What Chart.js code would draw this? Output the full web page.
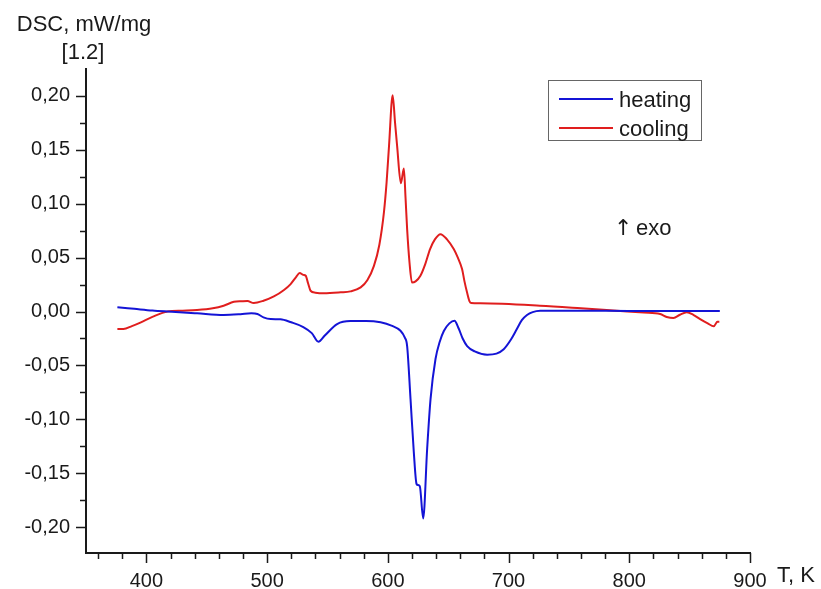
<!DOCTYPE html>
<html>
<head>
<meta charset="utf-8">
<script src="https://cdn.jsdelivr.net/npm/chart.js@4/dist/chart.umd.min.js"></script>
<style>
  body { margin: 0; background: #fff; }
  canvas { display: block; }
</style>
</head>
<body>
<canvas id="dsc" width="821" height="589"></canvas>
<script>
// heating curve (blue), T in K, DSC in mW/mg
const heatT = [376, 390, 405, 418, 442, 464, 478, 487, 492, 497, 503, 511, 520, 530, 537, 542.5, 548, 558, 569, 582,
  594, 603, 610.5, 614, 616, 618.8, 621.5, 623.8, 625, 626.5, 629.3, 632.6, 635.4, 639.5, 643, 646.4, 651, 655.2,
  658.8, 662, 665.7, 672, 682.3, 690, 696, 702, 707, 711, 715.3, 720, 726.3, 740, 780, 830, 875];
const heatV = [0.0039, 0.0025, 0.001, 0.0, -0.0017, -0.0032, -0.0025, -0.0017, -0.0023, -0.0054, -0.007, -0.0072,
  -0.010, -0.0144, -0.020, -0.028, -0.022, -0.0116, -0.0088, -0.0088,
  -0.010, -0.013, -0.0178, -0.024, -0.032, -0.081, -0.130, -0.160, -0.161, -0.162, -0.192, -0.127, -0.081, -0.044,
  -0.028, -0.018, -0.011, -0.0085,
  -0.016, -0.025, -0.032, -0.037, -0.040, -0.039, -0.035, -0.026, -0.016, -0.008, -0.0032, -0.0005, 0.0007, 0.0008,
  0.0007, 0.0005, 0.0005];

// cooling curve (red)
const coolT = [376, 381, 388, 395.5, 405, 417.5, 430, 442, 455, 464, 472.5, 479, 483.7, 489, 497, 505.6, 514, 519.5,
  524, 527, 530, 532, 534, 536, 540, 547, 561, 569, 577.5, 583, 588.5, 593, 596.8, 599, 601, 604, 606, 607.7,
  610.8, 613.3, 614.7, 616, 618, 620, 623, 627, 631, 635, 639, 643.6, 649, 654.6, 658, 661.5, 663.5, 665.6,
  667.5, 669, 676.7, 726, 760, 789.7, 812, 825.6, 831, 836.6, 842, 847.6, 853, 858.7, 865, 870, 872.4, 873, 874.6];
const coolV = [-0.0162, -0.0162, -0.0135, -0.010, -0.005, 0.0, 0.0008, 0.0014, 0.003, 0.0054, 0.009, 0.0095, 0.0097,
  0.0079, 0.010, 0.014, 0.020, 0.0255,
  0.032, 0.0357, 0.034, 0.0332, 0.026, 0.0193, 0.0175, 0.0169, 0.0178, 0.0187, 0.0224, 0.029, 0.0424, 0.062,
  0.0922, 0.12, 0.1537, 0.2006, 0.175, 0.1537,
  0.119, 0.1327, 0.105, 0.0765, 0.045, 0.027, 0.028, 0.0332, 0.044, 0.058, 0.067, 0.0718, 0.067, 0.058, 0.050,
  0.0394, 0.028, 0.0178,
  0.010, 0.008, 0.0076, 0.0054, 0.003, 0.0007, -0.001, -0.0023, -0.005, -0.006, -0.003, -0.0007, -0.003, -0.007,
  -0.011, -0.0137, -0.010, -0.0095, -0.0095];

const seriesNames = ['heating', 'cooling'];
const seriesColors = ['#1414d6', '#e01e1e'];

// axes
const xMin = 350, xMax = 900, xStep = 20, xMajor = 100;
const yMin = -0.224, yMax = 0.225, yStep = 0.025;

const FONT = '"Liberation Sans", Arial, sans-serif';
const INK = '#1a1a1a';

function pts(xs, ys) {
  return xs.map((x, i) => ({ x: x, y: ys[i] }));
}

function yLabel(v) {
  return v.toFixed(2).replace('.', ',').replace('-0,00', '0,00');
}

// tick marks, axis titles, legend and note
const decor = {
  id: 'decor',
  afterDraw(chart) {
    const ctx = chart.ctx;
    const xs = chart.scales.x, ys = chart.scales.y;
    const area = chart.chartArea;
    ctx.save();
    ctx.strokeStyle = INK;
    ctx.lineWidth = 1.5;
    ctx.beginPath();
    xs.ticks.forEach(t => {
      const px = Math.round(xs.getPixelForValue(t.value)) + 0.5;
      const len = t.value % xMajor === 0 ? 10 : 6;
      ctx.moveTo(px, area.bottom);
      ctx.lineTo(px, area.bottom + len);
    });
    ys.ticks.forEach(t => {
      const py = Math.round(ys.getPixelForValue(t.value)) + 0.5;
      const len = Math.round(t.value / yStep) % 2 === 0 ? 10 : 6;
      ctx.moveTo(area.left, py);
      ctx.lineTo(area.left - len, py);
    });
    ctx.stroke();

    ctx.fillStyle = INK;
    ctx.textBaseline = 'alphabetic';
    ctx.font = '22px ' + FONT;
    ctx.textAlign = 'center';
    ctx.fillText('DSC, mW/mg', 84, 31);
    ctx.fillText('[1.2]', 83, 59);
    ctx.textAlign = 'left';
    ctx.fillText('T, K', 777, 582);
    ctx.fillText('exo', 636, 235);
    ctx.font = '22px "DejaVu Sans", sans-serif';
    ctx.fillText('\u2191', 614, 235);

    // legend box
    ctx.strokeStyle = '#666';
    ctx.lineWidth = 1;
    ctx.strokeRect(548.5, 80.5, 153, 60);
    const rows = [99, 128];
    seriesNames.forEach((name, i) => {
      ctx.strokeStyle = seriesColors[i];
      ctx.lineWidth = 2;
      ctx.beginPath();
      ctx.moveTo(559, rows[i]);
      ctx.lineTo(613, rows[i]);
      ctx.stroke();
      ctx.fillStyle = INK;
      ctx.font = '22px ' + FONT;
      ctx.fillText(name, 619, rows[i] + 8);
    });
    ctx.restore();
  }
};

new Chart(document.getElementById('dsc'), {
  type: 'line',
  data: {
    datasets: [
      { label: seriesNames[0], data: pts(heatT, heatV), borderColor: seriesColors[0] },
      { label: seriesNames[1], data: pts(coolT, coolV), borderColor: seriesColors[1] }
    ]
  },
  options: {
    responsive: false,
    animation: false,
    events: [],
    elements: {
      point: { radius: 0 },
      line: { borderWidth: 2, cubicInterpolationMode: 'monotone', fill: false }
    },
    layout: { padding: { left: 0, top: 69, right: 71, bottom: 0 } },
    plugins: { legend: { display: false }, tooltip: { enabled: false } },
    scales: {
      x: {
        type: 'linear',
        min: xMin, max: xMax,
        afterBuildTicks: s => {
          const t = [];
          for (let v = xMin + 10; v <= xMax; v += xStep) t.push({ value: v });
          s.ticks = t;
        },
        afterFit: s => { s.height = 36; },
        grid: { display: false, drawTicks: true, tickLength: 10 },
        border: { display: true, color: INK, width: 2 },
        ticks: {
          autoSkip: false, maxRotation: 0, padding: 6,
          color: INK, font: { family: FONT, size: 20 },
          callback: v => (v % xMajor === 0 ? String(v) : '')
        }
      },
      y: {
        min: yMin, max: yMax,
        afterBuildTicks: s => {
          const t = [];
          for (let i = -8; i <= 8; i++) t.push({ value: i * yStep });
          s.ticks = t;
        },
        afterFit: s => { s.width = 86; },
        grid: { display: false, drawTicks: true, tickLength: 10 },
        border: { display: true, color: INK, width: 2 },
        ticks: {
          autoSkip: false, padding: 6,
          color: INK, font: { family: FONT, size: 20 },
          callback: v => (Math.round(v / yStep) % 2 === 0 ? yLabel(v) : '')
        }
      }
    }
  },
  plugins: [decor]
});
</script>
</body>
</html>
